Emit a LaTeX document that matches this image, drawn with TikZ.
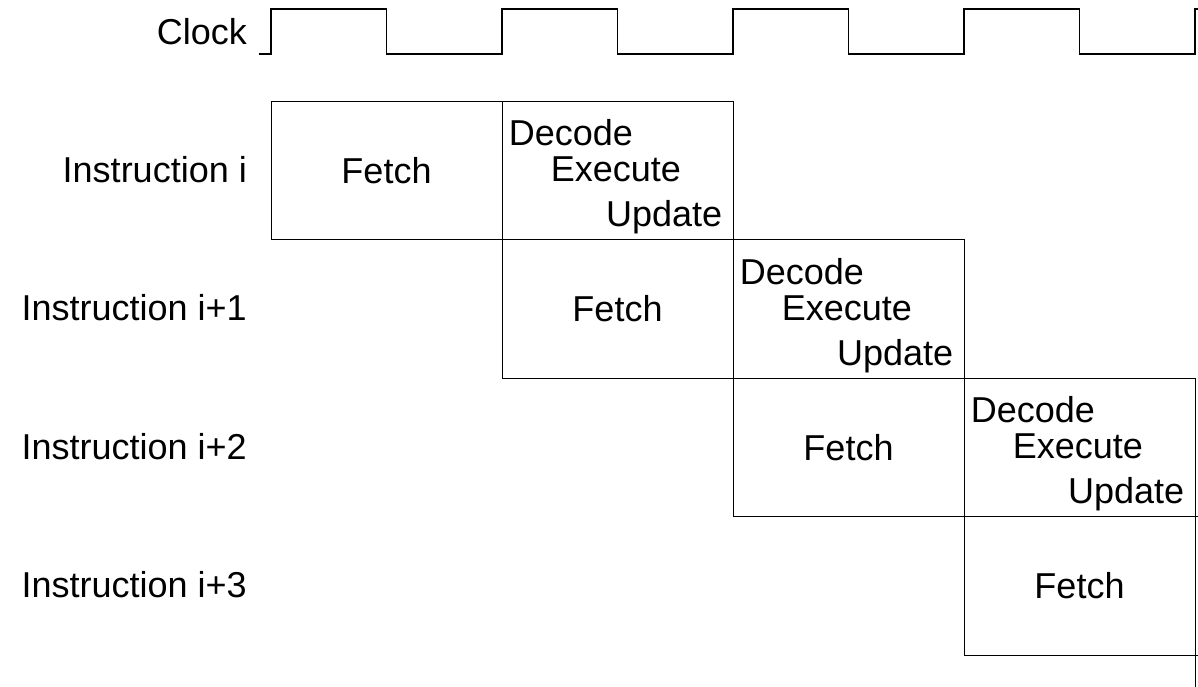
\documentclass[tikz,border=0pt]{standalone}
\usepackage{fontspec}
\setmainfont{Liberation Sans}
\begin{document}
\begin{tikzpicture}[x=1pt,y=-1pt,
  txt/.style={inner sep=0pt, font=\fontsize{36}{40}\selectfont},
  stagebox/.style={draw, line width=0.9pt, minimum width=231pt,
    minimum height=138.5pt, inner sep=0pt, font=\fontsize{36}{40}\selectfont},
  clockline/.style={line width=1.2pt, line join=miter},
]
\useasboundingbox (0,0) rectangle (1198,686);
\clip (0,0) rectangle (1198,686);

% clock signal
\node[txt, anchor=base east] (clk) at (247,44) {Clock};
\draw[clockline] (259,54) -- (271,54)
  \foreach \k in {0,...,3} {
    -- ({271+231*\k},9) -- ({386.5+231*\k},9)
    -- ({386.5+231*\k},54) -- ({502+231*\k},54)
  } -- (1195,9) -- (1198,9);

% pipeline rows
\foreach \r/\lab in {0/{Instruction i},1/{Instruction i+1},2/{Instruction i+2},3/{Instruction i+3}} {
  \pgfmathsetmacro{\cx}{386.5+231*\r}
  \pgfmathsetmacro{\cy}{170.25+138.5*\r}
  \node[txt, anchor=base east] (row\r) at (247,{\cy+12}) {\lab};
  \node[stagebox] (fetch\r) at (\cx,\cy) {Fetch};
  \node[stagebox] (dec\r) at ({\cx+231},\cy) {};
}

% decode / execute / update text for the visible stages
\foreach \r in {0,1,2} {
  \node[txt, anchor=base west] (dtxt\r) at ([xshift=7pt,yshift=-45pt]dec\r.north west) {Decode};
  \node[txt, anchor=base west] (etxt\r) at ([xshift=49pt,yshift=-81pt]dec\r.north west) {Execute};
  \node[txt, anchor=base east] (utxt\r) at ([xshift=-11pt,yshift=-126pt]dec\r.north east) {Update};
}

% next instruction, running off the edge
\node[stagebox] (fetch4) at (1310.5,724.25) {};
\end{tikzpicture}
\end{document}
